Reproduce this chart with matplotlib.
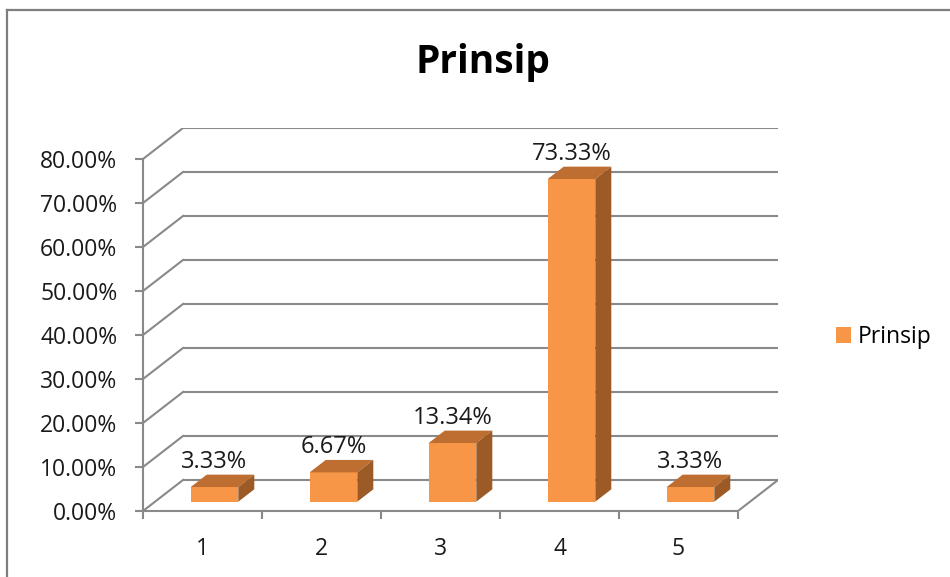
import matplotlib
matplotlib.use("Agg")
import matplotlib.pyplot as plt
from matplotlib.patches import Polygon
from matplotlib.lines import Line2D

categories = ["1", "2", "3", "4", "5"]
values = [3.33, 6.67, 13.34, 73.33, 3.33]
value_labels = ["3.33%", "6.67%", "13.34%", "73.33%", "3.33%"]
yticks = [0, 10, 20, 30, 40, 50, 60, 70, 80]
ytick_labels = ["0.00%", "10.00%", "20.00%", "30.00%", "40.00%",
                "50.00%", "60.00%", "70.00%", "80.00%"]
series_name = "Prinsip"
title = "Prinsip"

FONT = "Open Sans"
plt.rcParams["font.family"] = [FONT, "DejaVu Sans"]

C_FRONT = "#F79646"
C_TOP = "#BE6E30"
C_SIDE = "#9B5A26"
C_GRID = "#898989"
C_TEXT = "#1a1a1a"
FS = 16.5

W, H = 950, 577
fig = plt.figure(figsize=(W / 100, H / 100), dpi=100)

# axes in pixel positions of the reference
x0, x1 = 143, 778
y0, y1 = 511, 128
ax = fig.add_axes([x0 / W, (H - y0) / H, (x1 - x0) / W, (y0 - y1) / H])

n = len(categories)
DX = 40 / 119.0          # depth offset in category units
DY = 31 / 4.4            # depth offset in percent units
ymax = yticks[-1]
ax.set_xlim(0, n + DX)
ax.set_ylim(0, ymax + DY)

lw = 1.5
# back wall gridlines and left wall diagonals
for v in yticks:
    ax.plot([DX, n + DX], [v + DY, v + DY], color=C_GRID, lw=lw, zorder=1,
            solid_capstyle="butt")
    ax.plot([0, DX], [v, v + DY], color=C_GRID, lw=lw, zorder=1)
# floor right edge
ax.plot([n, n + DX], [0, DY], color=C_GRID, lw=lw, zorder=1)

# spines
for s in ["top", "right"]:
    ax.spines[s].set_visible(False)
ax.spines["left"].set_bounds(0, ymax)
ax.spines["bottom"].set_bounds(0, n)
for s in ["left", "bottom"]:
    ax.spines[s].set_color(C_GRID)
    ax.spines[s].set_linewidth(lw)
    ax.spines[s].set_zorder(2)

ax.set_yticks(yticks)
ax.set_yticklabels(ytick_labels)
ax.tick_params(axis="y", length=5.5, width=lw, color=C_GRID, pad=13,
               labelsize=FS, labelcolor=C_TEXT)
ax.set_xticks(range(n + 1))
ax.set_xticklabels([])
ax.tick_params(axis="x", which="major", length=6, width=lw, color=C_GRID)
ax.set_xticks([i + 0.5 for i in range(n)], minor=True)
ax.set_xticklabels(categories, minor=True)
ax.tick_params(axis="x", which="minor", length=0, pad=19, labelsize=FS,
               labelcolor=C_TEXT)

# bars (pseudo-3D)
bw = 0.4
d0, d1 = 0.3, 0.7
xs = [i + 0.5 + d0 * DX for i in range(n)]
bars = ax.bar(xs, values, width=bw, bottom=d0 * DY, color=C_FRONT,
              edgecolor="none", zorder=3, label=series_name)
dd = (d1 - d0)
for xc, v, lab in zip(xs, values, value_labels):
    l, r = xc - bw / 2, xc + bw / 2
    top = v + d0 * DY
    bot = d0 * DY
    ax.add_patch(Polygon([(l, top), (r, top), (r + dd * DX, top + dd * DY),
                          (l + dd * DX, top + dd * DY)], closed=True,
                         facecolor=C_TOP, edgecolor="none", zorder=3))
    ax.add_patch(Polygon([(r, bot), (r + dd * DX, bot + dd * DY),
                          (r + dd * DX, top + dd * DY), (r, top)], closed=True,
                         facecolor=C_SIDE, edgecolor="none", zorder=3))
    ax.annotate(lab, (xc, v + d1 * DY), xytext=(0, 5),
                textcoords="offset points", ha="center", va="baseline",
                fontsize=17, color=C_TEXT, zorder=4)

# title
fig.text(483 / W, (H - 62) / H, title, ha="center", va="center",
         fontsize=28, fontweight="bold", color="black")

# legend
ax.legend(handles=[bars], labels=[series_name], loc="center left",
          bbox_to_anchor=(836 / W, (H - 337) / H), bbox_transform=fig.transFigure,
          frameon=False, fontsize=FS, handlelength=0.66, handleheight=0.66,
          handletextpad=0.28, borderpad=0, borderaxespad=0)

# chart-area border
fig.add_artist(Line2D([7 / W, 1], [(H - 10) / H, (H - 10) / H],
                      transform=fig.transFigure, color="#7f7f7f", lw=1.6))
fig.add_artist(Line2D([7 / W, 7 / W], [0, (H - 10) / H],
                      transform=fig.transFigure, color="#7f7f7f", lw=1.6))

fig.savefig("out.png", dpi=100, facecolor="white")
